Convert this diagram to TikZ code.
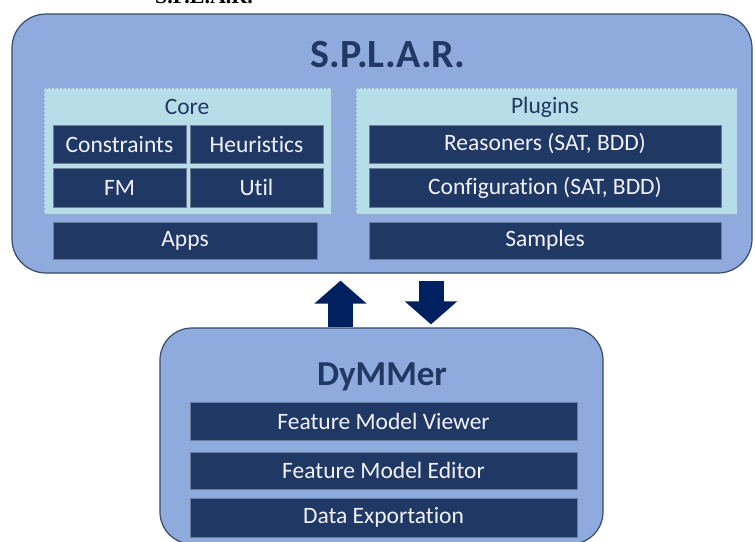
\documentclass[tikz,border=0pt]{standalone}
\usepackage{fontspec}
\setmainfont{Carlito}[Ligatures={NoCommon,NoRare,NoContextual}]
\newfontfamily\cutserif{Liberation Serif}
\usetikzlibrary{arrows.meta, positioning}

\definecolor{boxblue}{RGB}{143,170,220}
\definecolor{edgeslate}{RGB}{55,75,105}
\definecolor{panelcyan}{RGB}{183,222,232}
\definecolor{paneledge}{RGB}{150,175,195}
\definecolor{navy}{RGB}{31,56,100}
\definecolor{arrownavy}{RGB}{0,32,96}

\tikzset{
  outerbox/.style={draw=edgeslate, fill=boxblue, line width=1.2pt},
  panel/.style={draw=paneledge, fill=panelcyan, dash pattern=on 2pt off 2pt, line width=1pt},
  module/.style={draw=navy!65!white, fill=navy, line width=1pt, text=white!95!blue,
    inner sep=0pt, font=\fontsize{23.5}{27}\selectfont},
  caption/.style={text=navy, font=\fontsize{23.5}{27}\selectfont},
  bigarrow/.style={line width=25pt, draw=arrownavy, -{Triangle[length=23pt,width=51pt]}}
}

\begin{document}
\begin{tikzpicture}[x=1pt, y=-1pt]
  \useasboundingbox (0,0) rectangle (755,541);
  \fill[white] (0,0) rectangle (755,541);
  \clip (0,0) rectangle (755,541);

  % cut-off heading above the figure
  \node[anchor=base west, inner sep=0pt, font=\cutserif\bfseries\fontsize{22}{24}\selectfont] (head) at (155,3) {S.P.L.A.R.};

  % S.P.L.A.R. block
  \node[outerbox, rounded corners=34pt, minimum width=740pt, minimum height=259pt] (splar) at (382,143.5) {};
  \node[text=navy, font=\bfseries\fontsize{40}{44}\selectfont] (splartitle) at (388,55) {S.P.L.A.R.};

  \node[panel, minimum width=287pt, minimum height=126pt] (core) at (187.5,151) {};
  \node[panel, minimum width=381pt, minimum height=126pt] (plugins) at (546.5,151) {};
  \node[caption] (corelabel) at (187,107) {Core};
  \node[caption] (pluginslabel) at (545,107) {Plugins};

  \node[module, minimum width=133pt, minimum height=38pt] (constraints) at (119.5,144) {Constraints};
  \node[module, minimum width=133pt, minimum height=38pt] (heuristics) at (256.5,144) {Heuristics};
  \node[module, minimum width=133pt, minimum height=39pt] (fm) at (119.5,187.5) {FM};
  \node[module, minimum width=133pt, minimum height=39pt] (util) at (256.5,187.5) {Util};
  \node[module, minimum width=264pt, minimum height=37pt] (apps) at (185,240.5) {Apps};

  \node[module, minimum width=352pt, minimum height=38pt] (reasoners) at (545,144) {Reasoners (SAT, BDD)};
  \node[module, minimum width=352pt, minimum height=39pt] (configuration) at (545,187.5) {Configuration (SAT, BDD)};
  \node[module, minimum width=352pt, minimum height=37pt] (samples) at (545,240.5) {Samples};

  % DyMMer block
  \node[outerbox, rounded corners=32pt, minimum width=443pt, minimum height=216pt] (dymmer) at (381.5,436) {};
  \node[text=navy, font=\bfseries\fontsize{35}{40}\selectfont] (dymmertitle) at (382,377) {DyMMer};

  \node[module, minimum width=387pt, minimum height=38pt] (viewer) at (383.5,421) {Feature Model Viewer};
  \node[module, minimum width=387pt, minimum height=37pt] (editor) at (383.5,470.5) {Feature Model Editor};
  \node[module, minimum width=387pt, minimum height=39pt] (export) at (383.5,517.5) {Data Exportation};

  % exchange arrows
  \coordinate (upx) at (340.5,0);
  \coordinate (downx) at (431,0);
  \draw[bigarrow, shorten >=7pt] (dymmer.north -| upx) -- (splar.south -| upx);
  \draw[bigarrow, shorten <=7pt, shorten >=3pt] (splar.south -| downx) -- (dymmer.north -| downx);
\end{tikzpicture}
\end{document}
